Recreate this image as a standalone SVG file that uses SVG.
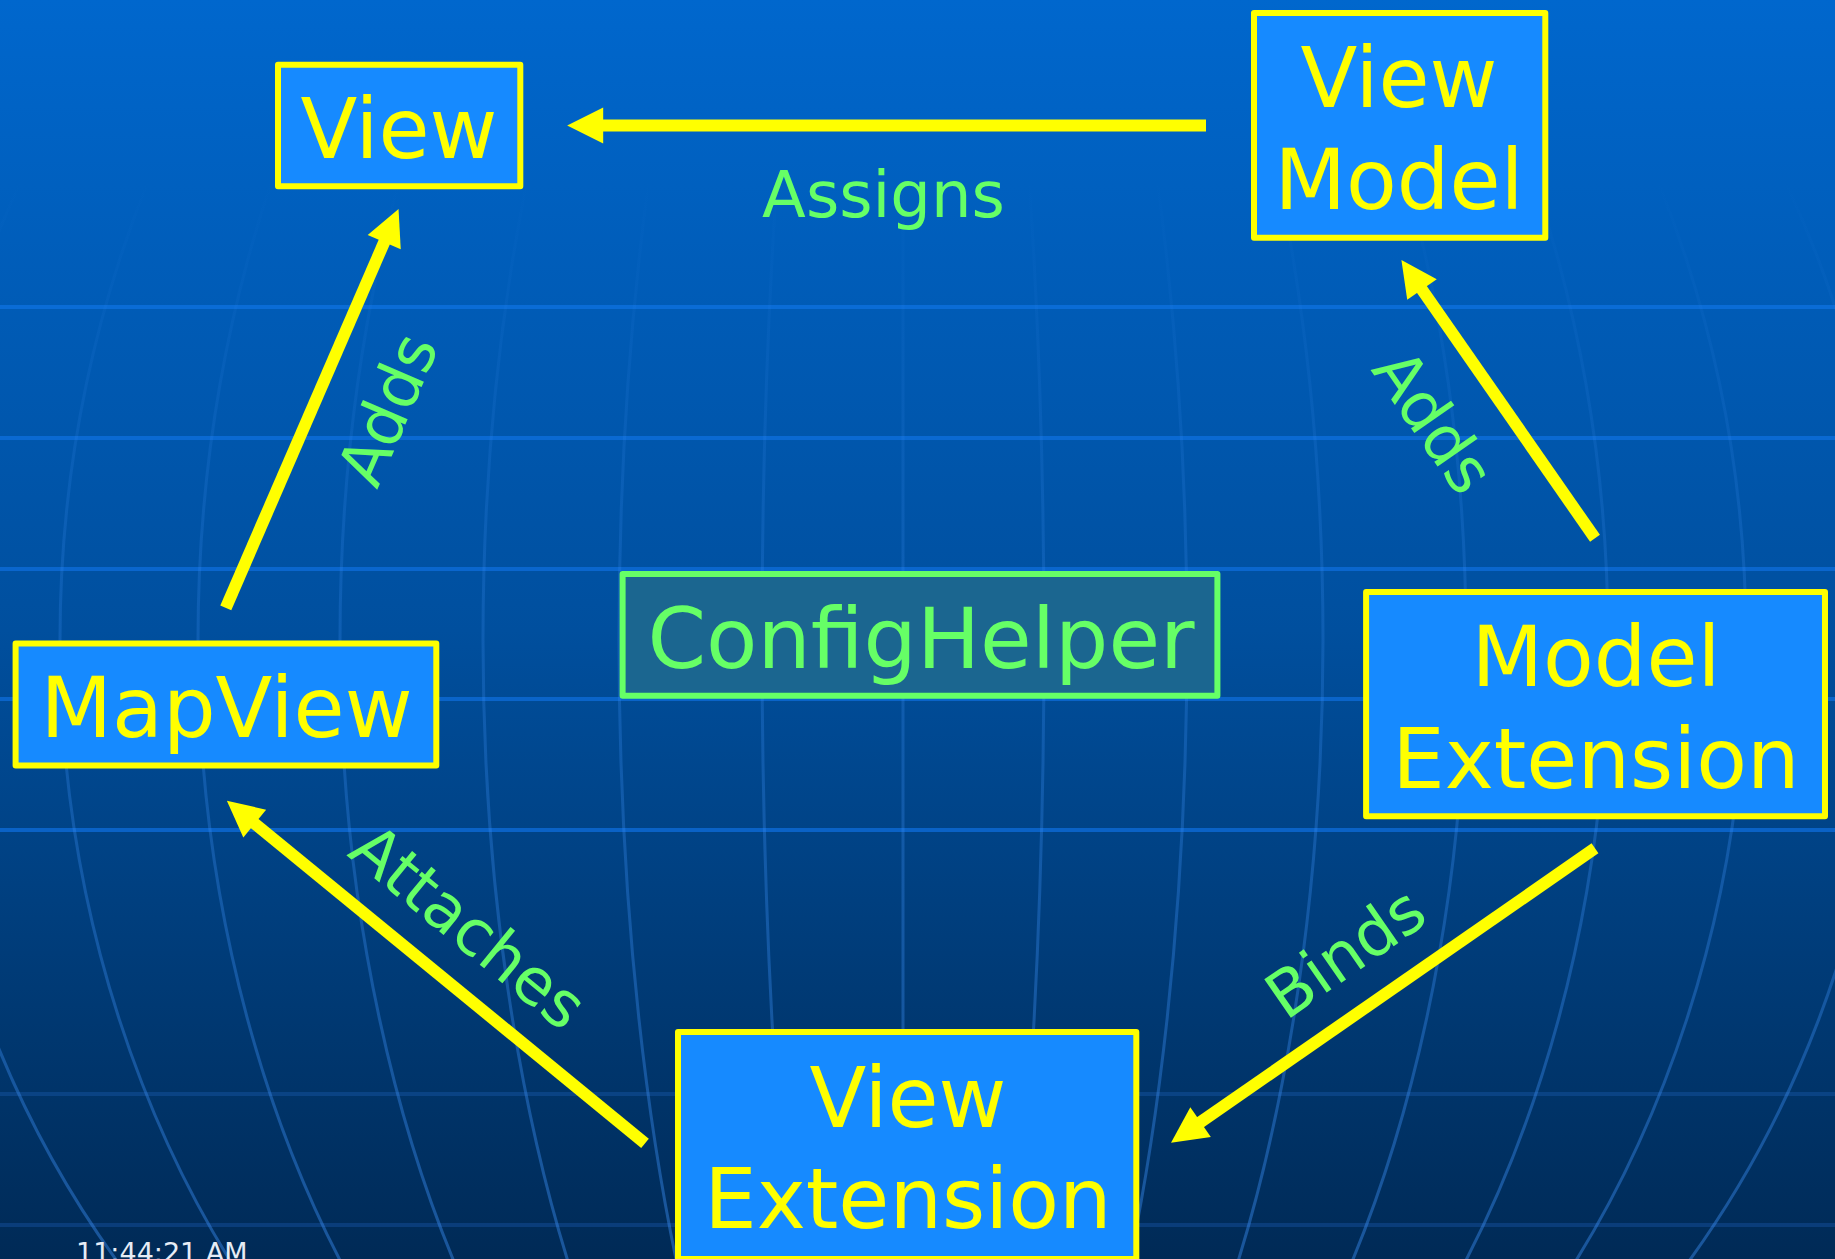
<svg xmlns="http://www.w3.org/2000/svg" width="1835" height="1259" viewBox="0 0 1835 1259">
  <defs>
    <linearGradient id="bg" x1="0" y1="0" x2="0" y2="1">
      <stop offset="0" stop-color="#0067cd"/>
      <stop offset="0.5" stop-color="#004f9e"/>
      <stop offset="1" stop-color="#002a56"/>
    </linearGradient>
    <linearGradient id="mer" gradientUnits="userSpaceOnUse" x1="0" y1="180" x2="0" y2="1259">
      <stop offset="0" stop-color="#3a8cf0" stop-opacity="0"/>
      <stop offset="0.35" stop-color="#3a8cf0" stop-opacity="0.22"/>
      <stop offset="1" stop-color="#3a8cf0" stop-opacity="0.45"/>
    </linearGradient>
    <clipPath id="clipTop">
      <rect x="0" y="180" width="1835" height="1079"/>
    </clipPath>
    <marker id="ah" markerUnits="strokeWidth" markerWidth="3" markerHeight="3" viewBox="0 -1.5 3 3" refX="0.1" refY="0" orient="auto" overflow="visible">
      <path d="M0,-1.5 L3,0 L0,1.5 z" fill="#ffff00"/>
    </marker>
    <style>
      .node rect { fill: #168aff; stroke: #ffff00; stroke-width: 6; stroke-linejoin: round; }
      .node text { fill: #ffff00; font-family: "DejaVu Sans", Verdana, sans-serif; font-size: 83px; text-anchor: middle; }
      .helper rect { fill: #1b6690; stroke: #66ff66; stroke-width: 6; stroke-linejoin: round; }
      .helper text { fill: #66ff66; font-family: "DejaVu Sans", Verdana, sans-serif; font-size: 84px; text-anchor: middle; }
      .conn line { stroke: #ffff00; stroke-width: 12; marker-end: url(#ah); }
      .lbl { fill: #66ff66; font-family: "DejaVu Sans", Verdana, sans-serif; font-size: 64px; text-anchor: middle; }
      .hl { stroke-width: 4; }
      .mer { fill: none; stroke: url(#mer); stroke-width: 3; }
    </style>
  </defs>

  <!-- background -->
  <g id="background">
    <rect x="0" y="0" width="1835" height="1259" fill="url(#bg)"/>
    <g class="hl">
      <line x1="0" y1="307" x2="1835" y2="307" stroke="#0a6cd6"/>
      <line x1="0" y1="438" x2="1835" y2="438" stroke="#0a69d2"/>
      <line x1="0" y1="569" x2="1835" y2="569" stroke="#0a66cd"/>
      <line x1="0" y1="699" x2="1835" y2="699" stroke="#0a64c9"/>
      <line x1="0" y1="830" x2="1835" y2="830" stroke="#0a62c6"/>
      <line x1="0" y1="1094" x2="1835" y2="1094" stroke="#0a4384"/>
      <line x1="0" y1="1225" x2="1835" y2="1225" stroke="#0a3d7a"/>
    </g>
    <g clip-path="url(#clipTop)">
      <line class="mer" x1="903" y1="180" x2="903" y2="1259"/>
      <ellipse class="mer" cx="903" cy="640" rx="141" ry="1030"/>
      <ellipse class="mer" cx="903" cy="640" rx="284" ry="1030"/>
      <ellipse class="mer" cx="903" cy="640" rx="420" ry="1030"/>
      <ellipse class="mer" cx="903" cy="640" rx="563" ry="1030"/>
      <ellipse class="mer" cx="903" cy="640" rx="705" ry="1030"/>
      <ellipse class="mer" cx="903" cy="640" rx="843" ry="1030"/>
      <ellipse class="mer" cx="903" cy="640" rx="985" ry="1030"/>
    </g>
  </g>

  <!-- connectors -->
  <g id="connectors" class="conn">
    <line x1="1206" y1="125.5" x2="602" y2="125.5"/>
    <line x1="225.8" y1="607.8" x2="384.7" y2="241"/>
    <line x1="1595" y1="538.3" x2="1421.3" y2="288.6"/>
    <line x1="645" y1="1143.3" x2="253.8" y2="822.8"/>
    <line x1="1595" y1="848.3" x2="1199.6" y2="1122.8"/>
    <text class="lbl" x="883.5" y="217">Assigns</text>
    <text class="lbl" transform="translate(387,409) rotate(-66.6)" x="0" y="23">Adds</text>
    <text class="lbl" transform="translate(1434,421) rotate(55.2)" x="0" y="23">Adds</text>
    <text class="lbl" transform="translate(469,926) rotate(39.3)" x="0" y="23">Attaches</text>
    <text class="lbl" transform="translate(1345,952) rotate(-34.8)" x="0" y="23">Binds</text>
  </g>

  <!-- nodes -->
  <g id="node-view" class="node">
    <rect x="278" y="64.7" width="242.3" height="121.6"/>
    <text x="399" y="158">View</text>
  </g>
  <g id="node-viewmodel" class="node">
    <rect x="1254" y="13" width="291.3" height="224.7"/>
    <text x="1399" y="106.7">View</text>
    <text x="1399" y="209.3">Model</text>
  </g>
  <g id="node-mapview" class="node">
    <rect x="15.6" y="643.4" width="420.7" height="122.2"/>
    <text x="226.5" y="737">MapView</text>
  </g>
  <g id="node-confighelper" class="helper">
    <rect x="622.6" y="574" width="594.8" height="121.7"/>
    <text x="921" y="668">ConfigHelper</text>
  </g>
  <g id="node-modelextension" class="node">
    <rect x="1366.1" y="592" width="458.9" height="224.3"/>
    <text x="1596" y="686">Model</text>
    <text x="1596" y="788.3">Extension</text>
  </g>
  <g id="node-viewextension" class="node">
    <rect x="678" y="1032" width="458.3" height="227"/>
    <text x="908" y="1126.7">View</text>
    <text x="908" y="1228.3">Extension</text>
  </g>

  <text id="timestamp" x="76" y="1262" fill="#e6ecf5" font-family="DejaVu Sans, Verdana, sans-serif" font-size="27">11:44:21 AM</text>
</svg>
